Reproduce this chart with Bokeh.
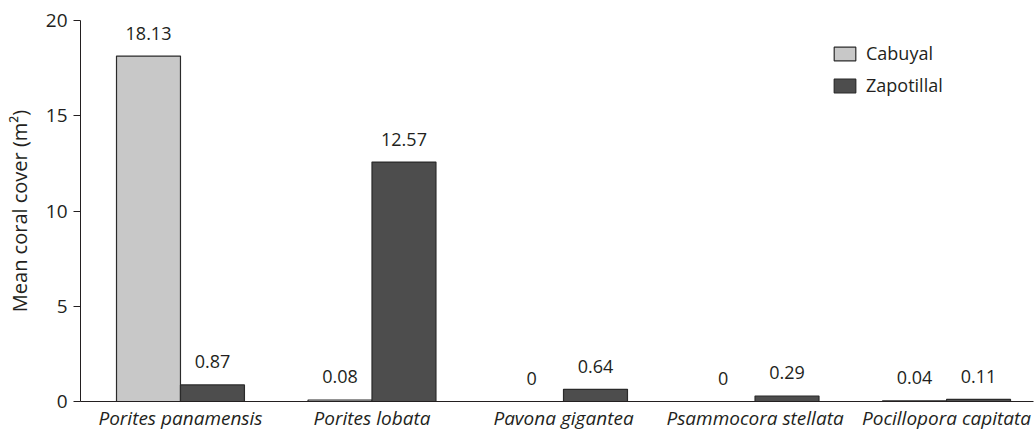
from bokeh.plotting import figure
from bokeh.models import Range1d, FixedTicker, ColumnDataSource, Legend, LegendItem
from bokeh.core.properties import value
from bokeh.embed import file_html
from bokeh.resources import INLINE

species = ["Porites panamensis", "Porites lobata", "Pavona gigantea",
           "Psammocora stellata", "Pocillopora capitata"]
cabuyal = [18.13, 0.08, 0.0, 0.0, 0.04]
zapotillal = [0.87, 12.57, 0.64, 0.29, 0.11]
y_ticks = [0, 5, 10, 15, 20]
series_names = ["Cabuyal", "Zapotillal"]

FONT = "Open Sans"
TEXT_COLOR = "#231f20"
LIGHT = "#c8c8c8"
DARK = "#4d4d4d"
EDGE = "#2a2a2a"
BAR_W = 0.334
OFF = 0.167

idx = list(range(len(species)))

p = figure(width=1036, height=433, output_backend="svg", toolbar_location=None,
           x_range=Range1d(-0.522, 4.454), y_range=Range1d(0, 20),
           min_border_left=80, min_border_right=3, min_border_top=20, min_border_bottom=32)
p.outline_line_color = None
p.xgrid.visible = False
p.ygrid.visible = False
p.background_fill_color = "white"
p.border_fill_color = "white"

src_c = ColumnDataSource(dict(x=[i - OFF for i in idx], top=cabuyal,
                              lab=[f"{v:g}" for v in cabuyal]))
src_z = ColumnDataSource(dict(x=[i + OFF for i in idx], top=zapotillal,
                              lab=[f"{v:g}" for v in zapotillal]))

r_c = p.vbar(x="x", top="top", bottom=0, width=BAR_W, source=src_c,
             fill_color=LIGHT, line_color=EDGE, line_width=1.2)
r_z = p.vbar(x="x", top="top", bottom=0, width=BAR_W, source=src_z,
             fill_color=DARK, line_color=EDGE, line_width=1.2)

for src in (src_c, src_z):
    p.text(x="x", y="top", text="lab", source=src, text_align="center",
           text_baseline="middle", y_offset=-23, text_font=value(FONT),
           text_font_size="18px", text_color=TEXT_COLOR)

# axes
yax = p.yaxis[0]
yax.ticker = FixedTicker(ticks=y_ticks)
yax.minor_tick_line_color = None
yax.major_tick_in = 0
yax.major_tick_out = 7
yax.major_label_standoff = 6
yax.axis_line_color = TEXT_COLOR
yax.major_tick_line_color = TEXT_COLOR
yax.major_label_text_font = FONT
yax.major_label_text_font_size = "19px"
yax.major_label_text_color = TEXT_COLOR
yax.axis_label = "Mean coral cover (m²)"
yax.axis_label_text_font = FONT
yax.axis_label_text_font_size = "20px"
yax.axis_label_text_font_style = "normal"
yax.axis_label_text_color = TEXT_COLOR
yax.axis_label_standoff = 10

xax = p.xaxis[0]
xax.ticker = FixedTicker(ticks=idx)
xax.major_label_overrides = {i: s for i, s in zip(idx, species)}
xax.minor_tick_line_color = None
xax.major_tick_line_color = None
xax.major_tick_out = 0
xax.major_tick_in = 0
xax.major_label_standoff = 3
xax.axis_line_color = TEXT_COLOR
xax.major_label_text_font = FONT
xax.major_label_text_font_size = "19px"
xax.major_label_text_font_style = "italic"
xax.major_label_text_color = TEXT_COLOR

legend = Legend(items=[LegendItem(label=series_names[0], renderers=[r_c]),
                       LegendItem(label=series_names[1], renderers=[r_z])],
                location=(751, 304))
legend.padding = 0
legend.margin = 0
legend.spacing = 8
legend.glyph_width = 27
legend.glyph_height = 17
legend.label_height = 20
legend.label_standoff = 8
legend.border_line_color = None
legend.background_fill_alpha = 0
legend.label_text_font = FONT
legend.label_text_font_size = "18px"
legend.label_text_color = TEXT_COLOR
p.add_layout(legend)

open("out.html", "w").write(file_html(p, INLINE))
